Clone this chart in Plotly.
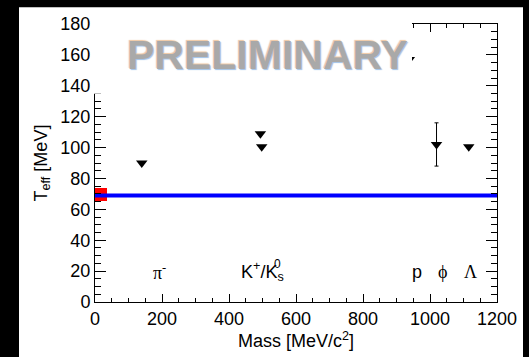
import plotly.graph_objects as go

# Particle masses [MeV/c^2] and effective temperatures [MeV]
particles = ["pi-", "K+", "K0s", "p", "phi", "Lambda"]
mass = [139.6, 493.7, 497.6, 938.3, 1019.5, 1115.7]
t_eff = [90.0, 109.0, 100.5, 157.0, 102.0, 100.5]
t_err = [0.0, 0.0, 0.0, 0.0, 14.0, 0.0]

# Common freeze-out temperature and its band
t_fit = 69.0
band_low, band_high = 65.5, 74.0
band_mass = [0.0, 35.0]

# Particle labels along the bottom
label_text = ["π<sup>-</sup>", "K<sup>+</sup>/K<sub>s</sub>", "p", "ϕ", "Λ"]
label_mass = [194, 500, 961, 1036, 1122]
label_t = 19.7
greek = [True, False, False, True, True]

x_ticks = [0, 200, 400, 600, 800, 1000, 1200]
y_ticks = [0, 20, 40, 60, 80, 100, 120, 140, 160, 180]

W, H = 529, 357
L, R, T, B = 95, 32, 24, 50
pw, ph = W - L - R, H - T - B


def px_x(p):
    return (p - L) / pw


def px_y(p):
    return (H - B - p) / ph


fig = go.Figure()

# band at zero mass
fig.add_trace(go.Bar(
    x=[(band_mass[0] + band_mass[1]) / 2], y=[band_high - band_low], base=[band_low],
    width=[band_mass[1] - band_mass[0]], marker=dict(color="#ff0000", line=dict(width=0)),
    showlegend=False, hoverinfo="skip"))

# fitted temperature line
fig.add_trace(go.Scatter(
    x=[0, 1200], y=[t_fit, t_fit], mode="lines",
    line=dict(color="#0000ff", width=4), showlegend=False))

# measured points
fig.add_trace(go.Scatter(
    x=mass, y=t_eff, mode="markers", text=particles,
    marker=dict(symbol="triangle-down", size=10, color="black"),
    error_y=dict(type="data", array=t_err, visible=True, color="black", thickness=1, width=2),
    showlegend=False))

ann = []
for txt, m, g in zip(label_text, label_mass, greek):
    ann.append(dict(x=m, y=label_t, xref="x", yref="y", text=txt, showarrow=False,
                    xanchor="center", yanchor="middle",
                    font=dict(family="Liberation Serif" if g else "Liberation Sans",
                              size=18, color="black")))
# superscript 0 stacked above the s subscript
ann.append(dict(x=label_mass[1], y=label_t, xref="x", yref="y", text="0", showarrow=False,
                xanchor="center", yanchor="middle",
                xshift=15, yshift=8, font=dict(family="Liberation Sans", size=12, color="black")))

# PRELIMINARY watermark, soft with colour fringes
ann.append(dict(x=px_x(267), y=px_y(56), xref="paper", yref="paper",
                xanchor="center", yanchor="middle", text="<b>PRELIMINARY</b>",
                showarrow=False,
                font=dict(family="Liberation Sans", size=41, color="#a9a9a9",
                          shadow="-1px -1px 1px rgba(236,192,152,0.9), "
                                 "1px 1px 1px rgba(150,186,228,0.9)")))

fig.update_layout(
    width=W, height=H,
    margin=dict(l=L, r=R, t=T, b=B),
    paper_bgcolor="black", plot_bgcolor="white",
    annotations=ann,
    bargap=0,
    shapes=[
        # white canvas
        dict(type="rect", xref="paper", yref="paper", layer="below",
             x0=px_x(19), x1=px_x(523), y0=-0.3, y1=px_y(7),
             fillcolor="white", line=dict(width=0)),
        # box behind the watermark
        dict(type="rect", xref="paper", yref="paper", layer="above",
             x0=px_x(92.5), x1=px_x(412), y0=px_y(95), y1=px_y(10),
             fillcolor="white", line=dict(width=0)),
    ],
    xaxis=dict(range=[0, 1200], tickvals=x_ticks, ticks="inside", ticklen=8, tickwidth=1,
               tickcolor="black", showline=True, linecolor="black", linewidth=1, mirror="ticks",
               showgrid=False, zeroline=False,
               minor=dict(dtick=50, ticks="inside", ticklen=4, tickcolor="black", showgrid=False),
               tickfont=dict(family="Liberation Sans", size=18, color="black"),
               title=dict(text="Mass [MeV/c<sup>2</sup>]", standoff=4,
                          font=dict(family="Liberation Sans", size=18, color="black"))),
    yaxis=dict(range=[0, 180], tickvals=y_ticks, ticks="inside", ticklen=11, tickwidth=1,
               tickcolor="black", showline=True, linecolor="black", linewidth=1, mirror="ticks",
               showgrid=False, zeroline=False,
               minor=dict(dtick=5, ticks="inside", ticklen=6, tickcolor="black", showgrid=False),
               tickfont=dict(family="Liberation Sans", size=18, color="black"),
               title=dict(text="T<sub>eff</sub> [MeV]", standoff=8,
                          font=dict(family="Liberation Sans", size=18, color="black"))),
)

fig.write_html("out.html")
